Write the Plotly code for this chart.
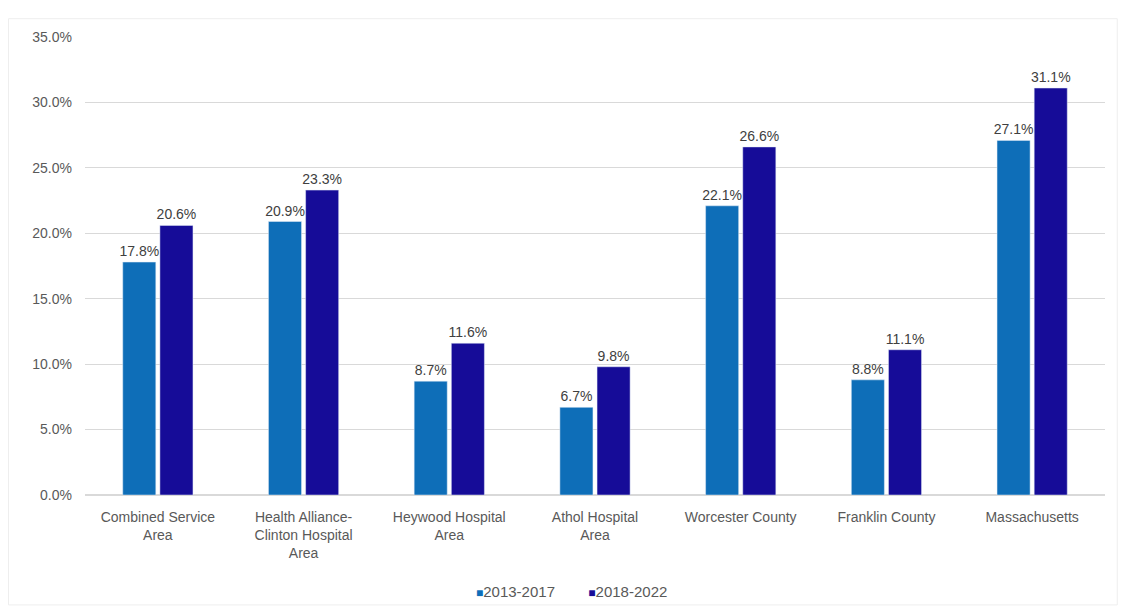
import plotly.graph_objects as go

categories = ["Combined Service<br>Area", "Health Alliance-<br>Clinton Hospital<br>Area",
              "Heywood Hospital<br>Area", "Athol Hospital<br>Area", "Worcester County",
              "Franklin County", "Massachusetts"]
series_names = ["2013-2017", "2018-2022"]
vals_2013_2017 = [0.178, 0.209, 0.087, 0.067, 0.221, 0.088, 0.271]
vals_2018_2022 = [0.206, 0.233, 0.116, 0.098, 0.266, 0.111, 0.311]
colors = ["#0E6EB8", "#160C98"]

font_family = "Liberation Sans, Arial, sans-serif"
text_color = "#404040"

fig = go.Figure()
for name, vals, c in zip(series_names, [vals_2013_2017, vals_2018_2022], colors):
    fig.add_trace(go.Bar(
        x=categories, y=vals, name=name, marker_color=c,
        text=[f"{v*100:.1f}%" for v in vals], textposition="outside",
        textfont=dict(size=14, color=text_color, family=font_family),
        constraintext="none", cliponaxis=False, showlegend=False,
    ))

legend_text = "&nbsp;&nbsp;&nbsp;&nbsp;&nbsp;&nbsp;&nbsp;&nbsp;".join(
    f"<span style='color:{c}; font-size:12px'>■</span>{n}" for n, c in zip(series_names, colors)
)
fig.add_annotation(text=legend_text, xref="paper", yref="paper", x=0.477, y=-0.21,
                   xanchor="center", yanchor="middle", showarrow=False,
                   font=dict(size=15, color="#595959", family=font_family))

fig.update_layout(
    width=1121, height=611,
    margin=dict(l=85, r=16, t=37, b=116),
    plot_bgcolor="white", paper_bgcolor="white",
    barmode="group", bargap=0.49, bargroupgap=0.11,
    font=dict(family=font_family, size=14, color=text_color),
    yaxis=dict(range=[0, 0.35], dtick=0.05, tickformat=".1%",
               showgrid=True, gridcolor="#D9D9D9", gridwidth=1,
               zeroline=True, zerolinecolor="#D9D9D9", showline=False,
               ticks="", ticklen=0, ticklabelstandoff=12,
               tickfont=dict(size=14, color="#595959")),
    xaxis=dict(showgrid=False, showline=False, ticks="", ticklabelstandoff=12,
               tickfont=dict(size=14, color="#595959"), tickangle=0),
    showlegend=False,
)
fig.add_shape(type="rect", xref="paper", yref="paper", x0=-0.075, x1=1.012, y0=-0.24, y1=1.04,
              line=dict(color="#EEEEEE", width=1), layer="below")

fig.write_html("out.html")
